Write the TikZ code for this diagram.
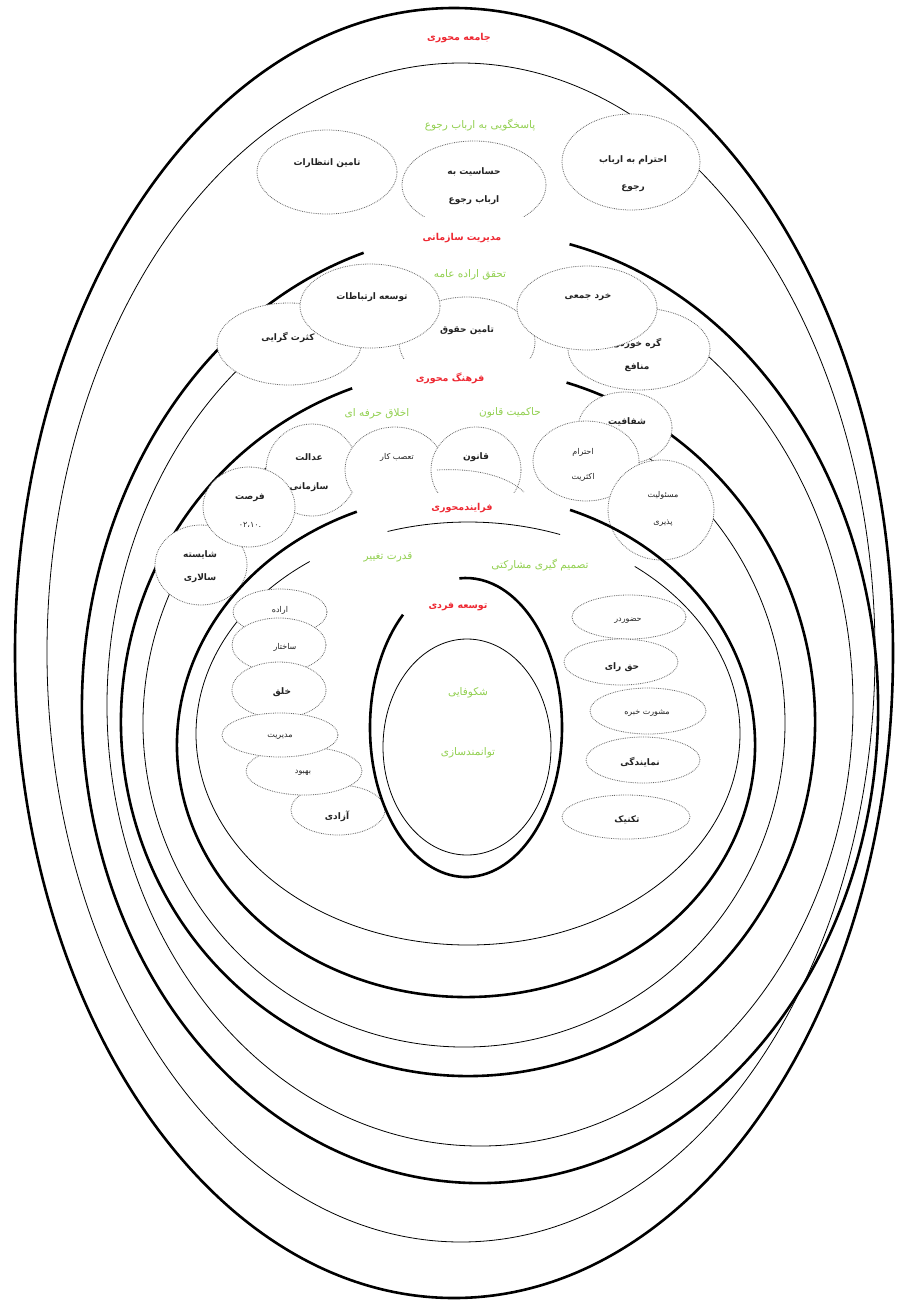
\documentclass[tikz,border=0pt]{standalone}
\usepackage{fontspec}
\newfontfamily\fa[Script=Arabic]{DejaVu Sans}
\TeXXeTstate=1
\definecolor{lblred}{RGB}{238,40,50}
\definecolor{lblgreen}{RGB}{146,208,80}
\definecolor{inkgray}{RGB}{35,35,35}
% elliptical arc given centre (pixel coords, y downwards), radii and parametric angles
\newcommand{\ringarc}[7]{\draw[#1] ({#2+#4*cos(#6)},{-#3+#5*sin(#6)}) arc[start angle=#6, end angle=#7, x radius=#4, y radius=#5];}
% dotted white bubble
\newcommand{\bub}[4]{\draw[bubble] (#1,-#2) ellipse [x radius=#3, y radius=#4];}
\tikzset{
  heavy/.style={line width=2.6pt},
  light/.style={line width=0.8pt},
  bubble/.style={densely dotted, draw=black!60, line width=0.8pt, fill=white},
  redlbl/.style={text=lblred, font=\fa\bfseries\fontsize{9.5}{11}\selectfont, inner sep=1pt},
  greenlbl/.style={text=lblgreen, font=\fa\fontsize{10.5}{12}\selectfont, inner sep=1pt},
  txt/.style={text=inkgray, font=\fa\bfseries\fontsize{9}{11}\selectfont, inner sep=1pt},
  smalltxt/.style={text=inkgray, font=\fa\fontsize{8}{10}\selectfont, inner sep=1pt},
}
\begin{document}
\begin{tikzpicture}[x=1pt,y=1pt]
\fill[white] (0,0) rectangle (899,-1301);
\useasboundingbox (0,0) rectangle (899,-1301);

% ---- society layer
\draw[heavy] (454,-653) ellipse [x radius=439, y radius=645];
\draw[light] (461,-652.5) ellipse [x radius=414, y radius=589.5];
\node[redlbl] (society) at (459,-38) {\beginR جامعه محوری\endR};
\node[greenlbl] (respond) at (480,-125) {\beginR پاسخگویی به ارباب رجوع\endR};

\bub{327}{172}{70}{42}
\node[txt] (expect) at (327,-163) {\beginR تامین انتظارات\endR};
\begin{scope}
  \clip (395,-130) rectangle (555,-216);
  \bub{474}{185}{72}{44}
\end{scope}
\node[txt] (sens1) at (474,-172) {\beginR حساسیت به\endR};
\node[txt] (sens2) at (474,-200) {\beginR ارباب رجوع\endR};
\bub{631}{162}{69}{48}
\node[txt] (resp1) at (633,-160) {\beginR احترام به ارباب\endR};
\node[txt] (resp2) at (633,-188) {\beginR رجوع\endR};

% ---- organisational management layer
\ringarc{heavy}{480}{707.5}{398}{475.5}{107}{437}
\ringarc{light}{480}{705}{373}{441}{128}{415}
\node[redlbl] (orgmgmt) at (462,-238) {\beginR مدیریت سازمانی\endR};
\node[greenlbl] (publicwill) at (470,-275) {\beginR تحقق اراده عامه\endR};

\bub{289}{344}{72}{41}
\node[txt] (plural) at (288,-338) {\beginR کثرت گرایی\endR};
\begin{scope}
  \clip (390,-280) rectangle (545,-358);
  \bub{467}{342}{68}{45}
\end{scope}
\node[txt] (rights) at (467,-330) {\beginR تامین حقوق\endR};
\bub{370}{306}{70}{42}
\node[txt] (comm) at (372,-297) {\beginR توسعه ارتباطات\endR};
\bub{639}{349}{71}{41}
\node[txt] (tie1) at (637,-343) {\beginR گره خوردن\endR};
\node[txt] (tie2) at (637,-367) {\beginR منافع\endR};
\bub{587}{308}{70}{42}
\node[txt] (wisdom) at (588,-297) {\beginR خرد جمعی\endR};

% ---- culture layer
\ringarc{heavy}{468}{722}{347}{354}{109.5}{433.5}
\ringarc{light}{464}{723}{321}{324}{125}{415}
\node[redlbl] (culture) at (450,-378) {\beginR فرهنگ محوری\endR};
\node[greenlbl] (ethics) at (377,-414) {\beginR اخلاق حرفه ای\endR};
\node[greenlbl] (lawrule) at (510,-413) {\beginR حاکمیت قانون\endR};

\bub{201}{565}{46}{40}
\node[txt] (merit1) at (200,-555) {\beginR شایسته\endR};
\node[txt] (merit2) at (200,-578) {\beginR سالاری\endR};
\bub{312}{470}{46}{46}
\node[txt] (just1) at (309,-457) {\beginR عدالت\endR};
\node[txt] (just2) at (309,-487) {\beginR سازمانی\endR};
\bub{249}{507}{46}{40}
\node[txt] (chance1) at (250,-498) {\beginR فرصت\endR};
\node[smalltxt] (chance2) at (250,-525) {.۰۲،۱۰};
\begin{scope}
  \clip (340,-405) rectangle (530,-492);
  \bub{395}{470}{50}{43}
  \bub{476}{470}{45}{43}
\end{scope}
\draw[bubble, fill=none] (437,-470) .. controls (470,-468) and (505,-474) .. (524,-492);
\node[smalltxt] (zeal) at (397,-457) {\beginR تعصب کار\endR};
\node[txt] (law) at (476,-457) {\beginR قانون\endR};
\bub{625}{428}{47}{36}
\node[txt] (transp) at (627,-422) {\beginR شفافیت\endR};
\bub{586}{461}{53}{40}
\node[smalltxt] (major1) at (583,-452) {\beginR احترام\endR};
\node[smalltxt] (major2) at (583,-477) {\beginR اکثریت\endR};
\bub{661}{510}{53}{50}
\node[smalltxt] (acc1) at (663,-495) {\beginR مسئولیت\endR};
\node[smalltxt] (acc2) at (663,-523) {\beginR پذیری\endR};

% ---- process layer
\ringarc{heavy}{466}{745}{289}{252}{112.2}{428.9}
\ringarc{light}{468}{733.5}{272}{211.5}{125.6}{412.2}
\ringarc{light}{468}{733.5}{272}{211.5}{70.2}{107.2}
\node[redlbl] (process) at (462,-508) {\beginR فرایندمحوری\endR};
\node[greenlbl] (change) at (388,-557) {\beginR قدرت تغییر\endR};
\node[greenlbl] (partic) at (540,-565) {\beginR تصمیم گیری مشارکتی\endR};

\bub{280}{612}{47}{23}
\node[smalltxt] (will) at (280,-610) {\beginR اراده\endR};
\bub{279}{645}{47}{27}
\node[smalltxt] (struct) at (285,-647) {\beginR ساختار\endR};
\bub{279}{690}{47}{28}
\node[txt] (create) at (282,-692) {\beginR خلق\endR};
\bub{338}{810}{47}{25}
\node[txt] (free) at (337,-816) {\beginR آزادی\endR};
\bub{304}{771}{58}{24}
\node[smalltxt] (improve) at (303,-773) {\beginR بهبود\endR};
\bub{280}{735}{58}{22}
\node[smalltxt] (manage) at (280,-737) {\beginR مدیریت\endR};

\bub{629}{617}{57}{22}
\node[smalltxt] (presence) at (628,-621) {\beginR حضوردر\endR};
\bub{621}{662}{57}{23}
\node[txt] (vote) at (622,-667) {\beginR حق رای\endR};
\bub{648}{711}{58}{23}
\node[smalltxt] (expert) at (647,-713) {\beginR مشورت خبره\endR};
\bub{643}{760}{57}{23}
\node[txt] (deleg) at (640,-762) {\beginR نمایندگی\endR};
\bub{626}{817}{64}{22}
\node[txt] (tech) at (627,-820) {\beginR تکنیک\endR};

% ---- individual development layer
\ringarc{heavy}{466}{727.5}{96}{149.5}{131}{454}
\draw[light] (467,-747) ellipse [x radius=84, y radius=108];
\node[redlbl] (indiv) at (458,-607) {\beginR توسعه فردی\endR};
\node[greenlbl] (flourish) at (468,-693) {\beginR شکوفایی\endR};
\node[greenlbl] (empower) at (468,-753) {\beginR توانمندسازی\endR};
\end{tikzpicture}
\end{document}
